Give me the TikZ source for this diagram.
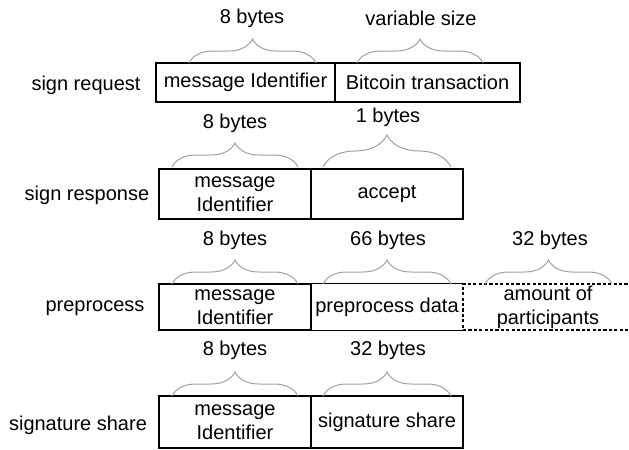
\documentclass[tikz,border=0pt]{standalone}
\usepackage{fontspec}
\setmainfont{Liberation Sans}
\usetikzlibrary{decorations.pathreplacing}
\tikzstyle{txt} = [inner sep=0pt,font=\fontsize{10}{12}\selectfont]
\tikzstyle{field} = [txt,draw,line width=0.7pt,align=center]
\tikzstyle{open} = [field,draw=none]
\tikzstyle{extra} = [field,dash pattern=on 1.6pt off 1.1pt]
\tikzstyle{cbrace} = [draw=gray!75,line width=0.5pt,decorate,decoration={brace,amplitude=12pt}]

\begin{document}
\begin{tikzpicture}[x=0.5pt,y=-0.5pt]
    \useasboundingbox (0,0) rectangle (629,450);

    % sign request
    \node[txt] (sreq) at (86,85) {sign request};
    \node[field,minimum width=89.5pt,minimum height=19.5pt] (sreqid) at (245.5,82.5) {message Identifier};
    \node[field,minimum width=92.5pt,minimum height=19.5pt] (sreqtx) at (427.5,82.5) {Bitcoin transaction};
    \draw[cbrace] (189,63) -- (316,63);
    \draw[cbrace] (357,63) -- (483,63);
    \node[txt] (sreqa) at (252,18) {8 bytes};
    \node[txt] (sreqb) at (421,18) {variable size};

    % sign response
    \node[txt] (sres) at (87,195) {sign response};
    \node[field,minimum width=76pt,minimum height=25pt] (sresid) at (235,194) {message\\Identifier};
    \node[field,minimum width=76pt,minimum height=25pt] (sresok) at (387,194) {accept};
    \draw[cbrace] (172,167) -- (298,167);
    \draw[cbrace,decoration={amplitude=16pt}] (323,167) -- (451,167);
    \node[txt] (sresa) at (235,123) {8 bytes};
    \node[txt] (sresb) at (388,117) {1 bytes};

    % preprocess
    \node[txt] (pre) at (95,308) {preprocess};
    \node[field,minimum width=76pt,minimum height=23pt] (preid) at (235,307) {message\\Identifier};
    \node[open,minimum width=76pt,minimum height=23pt] (predat) at (387,307) {preprocess data};
    \draw[line width=0.7pt] (predat.north east) -- (predat.north west) -- (predat.south west) -- (predat.south east);
    \node[extra,minimum width=85pt,minimum height=23pt] (prepart) at (548,307) {amount of\\participants};
    \draw[cbrace] (172,284) -- (298,284);
    \draw[cbrace] (323,284) -- (451,284);
    \draw[cbrace] (485,284) -- (612,284);
    \node[txt] (prea) at (235,240) {8 bytes};
    \node[txt] (preb) at (388,240) {66 bytes};
    \node[txt] (prec) at (550,240) {32 bytes};

    % signature share
    \node[txt] (sig) at (78,425) {signature share};
    \node[field,minimum width=76pt,minimum height=26pt] (sigid) at (235,422) {message\\Identifier};
    \node[field,minimum width=76pt,minimum height=26pt] (sigsh) at (387,422) {signature share};
    \draw[cbrace] (172,396) -- (298,396);
    \draw[cbrace] (323,396) -- (451,396);
    \node[txt] (siga) at (235,350) {8 bytes};
    \node[txt] (sigb) at (388,350) {32 bytes};

\end{tikzpicture}
\end{document}
